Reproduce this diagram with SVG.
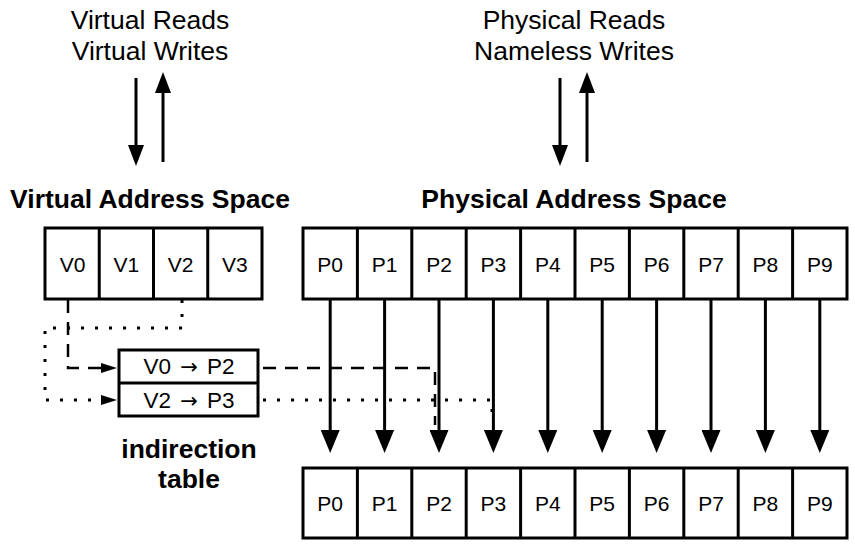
<svg xmlns="http://www.w3.org/2000/svg" width="855" height="548" viewBox="0 0 855 548">
<style>
text{font-family:"Liberation Sans",Arial,Helvetica,sans-serif;fill:#000;text-anchor:middle}
.lbl{font-size:26.5px}
.hdr{font-size:26.5px;font-weight:bold}
.cell{font-size:21px}
.tbl{font-size:22.5px}
.ar{font-family:"DejaVu Sans",sans-serif;font-size:21px}
.box{fill:#fff;stroke:#000;stroke-width:3}
.div{stroke:#000;stroke-width:3}
.arr{stroke:#000;stroke-width:3;fill:none}
.dash{stroke:#000;stroke-width:2.5;fill:none;stroke-dasharray:13 9}
.dot{stroke:#000;stroke-width:3;fill:none;stroke-dasharray:3 11}
</style>
<defs>
<marker id="big" markerUnits="userSpaceOnUse" viewBox="0 0 23 19" markerWidth="23" markerHeight="19" refX="10" refY="9.5" orient="auto"><path d="M0,0 L23,9.5 L0,19 Z" fill="#000" stroke="none"/></marker>
<marker id="mid" markerUnits="userSpaceOnUse" viewBox="0 0 21 16" markerWidth="21" markerHeight="16" refX="10" refY="8" orient="auto"><path d="M0,0 L21,8 L0,16 Z" fill="#000" stroke="none"/></marker>
<marker id="small" markerUnits="userSpaceOnUse" viewBox="0 0 16 10" markerWidth="16" markerHeight="10" refX="7" refY="5" orient="auto"><path d="M0,0 L16,5 L0,10 Z" fill="#000" stroke="none"/></marker>
</defs>

<g id="labels">
<text class="lbl" x="150" y="29">Virtual Reads</text>
<text class="lbl" x="150" y="60">Virtual Writes</text>
<text class="lbl" x="574" y="29">Physical Reads</text>
<text class="lbl" x="574" y="60">Nameless Writes</text>
<text class="hdr" x="150" y="208">Virtual Address Space</text>
<text class="hdr" x="574" y="208">Physical Address Space</text>
<text class="hdr" x="189" y="458">indirection</text>
<text class="hdr" x="189" y="488">table</text>
</g>

<g id="virtual-space">
<rect class="box" x="45" y="228" width="217" height="71"/>
<line class="div" x1="99.25" y1="228" x2="99.25" y2="299"/>
<line class="div" x1="153.5" y1="228" x2="153.5" y2="299"/>
<line class="div" x1="207.75" y1="228" x2="207.75" y2="299"/>
<text class="cell" x="72.5" y="272">V0</text>
<text class="cell" x="126.4" y="272">V1</text>
<text class="cell" x="180.6" y="272">V2</text>
<text class="cell" x="234.9" y="272">V3</text>
</g>

<g id="physical-space">
<rect class="box" x="303" y="228" width="544" height="71"/>
<line class="div" x1="357.4" y1="228" x2="357.4" y2="299"/>
<line class="div" x1="411.8" y1="228" x2="411.8" y2="299"/>
<line class="div" x1="466.2" y1="228" x2="466.2" y2="299"/>
<line class="div" x1="520.6" y1="228" x2="520.6" y2="299"/>
<line class="div" x1="575" y1="228" x2="575" y2="299"/>
<line class="div" x1="629.4" y1="228" x2="629.4" y2="299"/>
<line class="div" x1="683.8" y1="228" x2="683.8" y2="299"/>
<line class="div" x1="738.2" y1="228" x2="738.2" y2="299"/>
<line class="div" x1="792.6" y1="228" x2="792.6" y2="299"/>
<text class="cell" x="330.2" y="272">P0</text>
<text class="cell" x="384.6" y="272">P1</text>
<text class="cell" x="439" y="272">P2</text>
<text class="cell" x="493.4" y="272">P3</text>
<text class="cell" x="547.8" y="272">P4</text>
<text class="cell" x="602.2" y="272">P5</text>
<text class="cell" x="656.6" y="272">P6</text>
<text class="cell" x="711" y="272">P7</text>
<text class="cell" x="765.4" y="272">P8</text>
<text class="cell" x="819.8" y="272">P9</text>
</g>

<g id="physical-storage">
<rect class="box" x="303" y="468" width="544" height="70"/>
<line class="div" x1="357.4" y1="468" x2="357.4" y2="538"/>
<line class="div" x1="411.8" y1="468" x2="411.8" y2="538"/>
<line class="div" x1="466.2" y1="468" x2="466.2" y2="538"/>
<line class="div" x1="520.6" y1="468" x2="520.6" y2="538"/>
<line class="div" x1="575" y1="468" x2="575" y2="538"/>
<line class="div" x1="629.4" y1="468" x2="629.4" y2="538"/>
<line class="div" x1="683.8" y1="468" x2="683.8" y2="538"/>
<line class="div" x1="738.2" y1="468" x2="738.2" y2="538"/>
<line class="div" x1="792.6" y1="468" x2="792.6" y2="538"/>
<text class="cell" x="330.2" y="511">P0</text>
<text class="cell" x="384.6" y="511">P1</text>
<text class="cell" x="439" y="511">P2</text>
<text class="cell" x="493.4" y="511">P3</text>
<text class="cell" x="547.8" y="511">P4</text>
<text class="cell" x="602.2" y="511">P5</text>
<text class="cell" x="656.6" y="511">P6</text>
<text class="cell" x="711" y="511">P7</text>
<text class="cell" x="765.4" y="511">P8</text>
<text class="cell" x="819.8" y="511">P9</text>
</g>

<g id="indirection-table">
<rect class="box" x="119" y="350" width="139" height="66"/>
<line class="div" x1="119" y1="383" x2="258" y2="383"/>
<text class="tbl" x="189" y="374">V0 <tspan class="ar" dx="3">→</tspan> <tspan dx="3">P2</tspan></text>
<text class="tbl" x="189" y="408">V2 <tspan class="ar" dx="3">→</tspan> <tspan dx="3">P3</tspan></text>
</g>

<g id="connectors">
<line class="arr" x1="136" y1="78" x2="136" y2="155" marker-end="url(#mid)"/>
<line class="arr" x1="163" y1="162" x2="163" y2="83" marker-end="url(#mid)"/>
<line class="arr" x1="560" y1="78" x2="560" y2="155" marker-end="url(#mid)"/>
<line class="arr" x1="587" y1="162" x2="587" y2="83" marker-end="url(#mid)"/>

<line class="arr" x1="330.2" y1="299" x2="330.2" y2="440" marker-end="url(#big)"/>
<line class="arr" x1="384.6" y1="299" x2="384.6" y2="440" marker-end="url(#big)"/>
<line class="arr" x1="439" y1="299" x2="439" y2="440" marker-end="url(#big)"/>
<line class="arr" x1="493.4" y1="299" x2="493.4" y2="440" marker-end="url(#big)"/>
<line class="arr" x1="547.8" y1="299" x2="547.8" y2="440" marker-end="url(#big)"/>
<line class="arr" x1="602.2" y1="299" x2="602.2" y2="440" marker-end="url(#big)"/>
<line class="arr" x1="656.6" y1="299" x2="656.6" y2="440" marker-end="url(#big)"/>
<line class="arr" x1="711" y1="299" x2="711" y2="440" marker-end="url(#big)"/>
<line class="arr" x1="765.4" y1="299" x2="765.4" y2="440" marker-end="url(#big)"/>
<line class="arr" x1="819.8" y1="299" x2="819.8" y2="440" marker-end="url(#big)"/>

<path class="dash" d="M68,300 V368 H108" marker-end="url(#small)"/>
<path class="dot" d="M182,300 V328 H45 V400 H108" marker-end="url(#small)"/>
<path class="dash" d="M263,368 H435 V425"/>
<path class="dot" d="M263,400 H492 V417"/>
</g>
</svg>
